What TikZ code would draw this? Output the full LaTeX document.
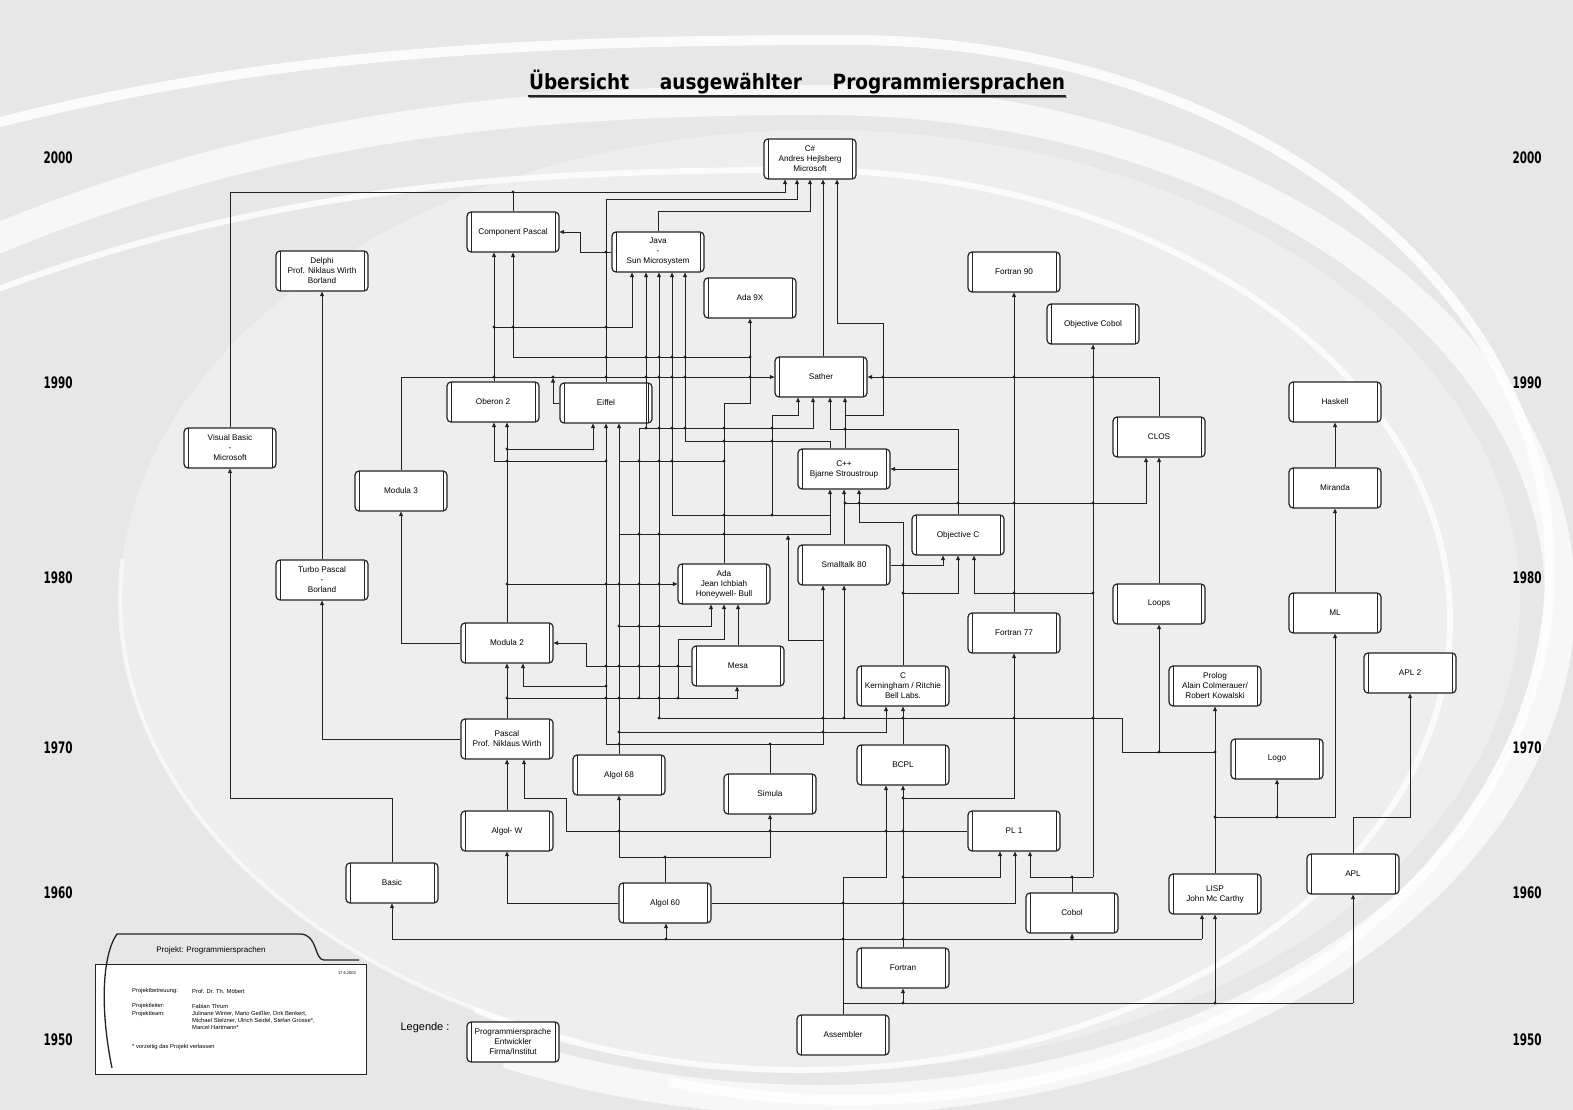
\documentclass[tikz,border=0pt]{standalone}
\usepackage{fontspec}
\setmainfont{Liberation Sans}
\newfontfamily\titlefont{DejaVu Sans}[FakeStretch=0.6]
\usepackage{graphicx}
\usetikzlibrary{arrows.meta}
\definecolor{bggray}{RGB}{231,231,231}
\definecolor{wirecol}{RGB}{35,35,35}
\tikzset{
  lang/.style={draw=wirecol, line width=1.2pt, fill=white, rounded corners=4pt,
    minimum width=92pt, minimum height=40pt, inner sep=1pt, align=center,
    font=\fontsize{8.2}{10}\selectfont,
    path picture={\draw[line width=0.9pt,wirecol]
      ([xshift=4pt]path picture bounding box.north west) -- ([xshift=4pt]path picture bounding box.south west)
      ([xshift=-4pt]path picture bounding box.north east) -- ([xshift=-4pt]path picture bounding box.south east);}},
  wire/.style={draw=wirecol, line width=0.9pt},
  link/.style={wire, -{Triangle[length=4.5pt,width=4pt]}},
  jahr/.style={font=\titlefont\bfseries, inner sep=0pt},
  info/.style={font=\fontsize{5.8}{7}\selectfont, anchor=west, inner sep=0pt},
  swoosh/.style={white}
}
\begin{document}
\begin{tikzpicture}[x=1pt,y=-1pt]
\useasboundingbox (0,0) rectangle (1573,1110);
% Hintergrund
\fill[bggray] (0,0) rectangle (1573,1110);
\begin{scope}
  \clip (0,0) rectangle (1573,1110);
  \fill[white, opacity=0.3] (820,600) ellipse [x radius=700pt, y radius=470pt];
  \draw[swoosh, line width=30pt, opacity=0.7] (-30,250) .. controls (250,130) and (500,100) .. (820,100)
    arc[start angle=90, end angle=-115, x radius=740pt, y radius=500pt];
  \draw[swoosh, line width=10pt, opacity=0.85] (-30,130) .. controls (250,55) and (500,40) .. (850,40)
    arc[start angle=90, end angle=-105, x radius=700pt, y radius=530pt];
  \draw[swoosh, line width=6pt, opacity=0.8] (-30,300) .. controls (250,190) and (500,170) .. (800,170)
    arc[start angle=90, end angle=-120, x radius=650pt, y radius=450pt];
  \draw[swoosh, line width=4pt, opacity=0.6] ([shift={(175:700pt and 470pt)}]820,600) arc[start angle=175, end angle=250, x radius=700pt, y radius=470pt];
\end{scope}

% Titel
\node (titel) at (797,82) {\resizebox*{536pt}{24pt}{\titlefont\bfseries \"Ubersicht\quad ausgew\"ahlter\quad Programmiersprachen}};
\draw[gray, line width=1pt] (529,98) -- (1067,98);
\draw[wirecol, line width=1.2pt] (528,96) -- (1066,96);

% Jahreszahlen
\foreach \jahr/\ypos in {2000/158,1990/383,1980/578,1970/748,1960/893,1950/1040}{
  \node[jahr] (links\jahr) at (58,\ypos) {\resizebox*{29pt}{12pt}{\jahr}};
  \node[jahr] (rechts\jahr) at (1527,\ypos) {\resizebox*{29pt}{12pt}{\jahr}};
}

% Sprachen
\node[lang] (cs) at (810,159) {C\#\\Andres Hejlsberg\\Microsoft};
\node[lang] (cp) at (513,232) {Component Pascal};
\node[lang] (java) at (658,252) {Java\\-\\Sun Microsystem};
\node[lang] (ada9x) at (750,298) {Ada 9X};
\node[lang] (delphi) at (322,271) {Delphi\\Prof. Niklaus Wirth\\Borland};
\node[lang] (fortran90) at (1014,272) {Fortran 90};
\node[lang] (objcobol) at (1093,324) {Objective Cobol};
\node[lang] (sather) at (821,377) {Sather};
\node[lang] (oberon) at (493,402) {Oberon 2};
\node[lang] (eiffel) at (606,403) {Eiffel};
\node[lang] (haskell) at (1335,402) {Haskell};
\node[lang] (vb) at (230,448) {Visual Basic\\-\\Microsoft};
\node[lang] (clos) at (1159,437) {CLOS};
\node[lang] (cpp) at (844,469) {C++\\Bjarne Stroustroup};
\node[lang] (modula3) at (401,491) {Modula 3};
\node[lang] (miranda) at (1335,488) {Miranda};
\node[lang] (objc) at (958,535) {Objective C};
\node[lang] (smalltalk) at (844,565) {Smalltalk 80};
\node[lang] (turbo) at (322,580) {Turbo Pascal\\-\\Borland};
\node[lang] (ada) at (724,584) {Ada\\Jean Ichbiah\\Honeywell- Bull};
\node[lang] (loops) at (1159,604) {Loops};
\node[lang] (ml) at (1335,613) {ML};
\node[lang] (fortran77) at (1014,633) {Fortran 77};
\node[lang] (modula2) at (507,643) {Modula 2};
\node[lang] (mesa) at (738,666) {Mesa};
\node[lang] (apltwo) at (1410,673) {APL 2};
\node[lang] (c) at (903,686) {C\\Kerningham / Ritchie\\Bell Labs.};
\node[lang] (prolog) at (1215,686) {Prolog\\Alain Colmerauer/\\Robert Kowalski};
\node[lang] (pascal) at (507,739) {Pascal\\Prof. Niklaus Wirth};
\node[lang] (logo) at (1277,759) {Logo};
\node[lang] (bcpl) at (903,765) {BCPL};
\node[lang] (algol68) at (619,775) {Algol 68};
\node[lang] (simula) at (770,794) {Simula};
\node[lang] (algolw) at (507,831) {Algol- W};
\node[lang] (pl1) at (1014,831) {PL 1};
\node[lang] (apl) at (1353,874) {APL};
\node[lang] (basic) at (392,883) {Basic};
\node[lang] (lisp) at (1215,894) {LISP\\John Mc Carthy};
\node[lang] (algol60) at (665,903) {Algol 60};
\node[lang] (cobol) at (1072,913) {Cobol};
\node[lang] (fortran) at (903,968) {Fortran};
\node[lang] (assembler) at (843,1035) {Assembler};

% Verbindungen nach C#
\draw[link] (vb.north) -- (230,192) -- (785,192) -- ([xshift=-25pt]cs.south);
\draw[wire] (cp.north) -- (513,192);
\draw[link] (eiffel.north) -- (606,199) -- (797,199) -- ([xshift=-13pt]cs.south);
\draw[link] (java.north) -- (658,211) -- (810,211) -- (cs.south);
\draw[link] ([xshift=2pt]sather.north) -- ([xshift=13pt]cs.south);
\draw[link] ([xshift=1pt]cpp.north) -- (845,415) -- (883,415) -- (883,323) -- (837,323) -- ([xshift=27pt]cs.south);
\draw[link] ([xshift=1pt]cpp.north) -- ([xshift=24pt]sather.south);

% Component Pascal, Java, Ada 9X
\draw[link] (java.west) -- (580,252) -- (580,232) -- (cp.east);
\draw[link] ([xshift=1pt]oberon.north) -- ([xshift=-19pt]cp.south);
\draw[link] (494,327) -- (632,327) -- ([xshift=-26pt]java.south);
\draw[link] (ada.north) -- (724,403) -- (750,403) -- (ada9x.south);
\draw[link] (750,357) -- (513,357) -- (cp.south);
\draw[link] (646,428) -- ([xshift=-12pt]java.south);
\draw[link] (659,718) -- ([xshift=1pt]java.south);
\draw[link] (672,515) -- ([xshift=14pt]java.south);
\draw[link] (685,441) -- ([xshift=27pt]java.south);

% Sather
\draw[link] (modula3.north) -- (401,377) -- (sather.west);
\draw[link] (eiffel.west) -- (553,403) -- (553,378);
\draw[link] (clos.north) -- (1159,377) -- (sather.east);
\draw[link] (639,698) -- (639,428) -- (813,428) -- ([xshift=-8pt]sather.south);
\draw[link] (772,515) -- (772,415) -- (798,415) -- ([xshift=-23pt]sather.south);
\draw[link] (objc.north) -- (958,429) -- (830,429) -- ([xshift=9pt]sather.south);

% C++, Objective C, CLOS
\draw[link] (958,469) -- (cpp.east);
\draw[wire] (685,441) -- (830,441) -- ([xshift=-14pt]cpp.north);
\draw[link] (672,515) -- (830,515) -- ([xshift=-14pt]cpp.south);
\draw[wire] (619,534) -- (830,534) -- (830,515);
\draw[link] (smalltalk.north) -- (cpp.south);
\draw[link] (c.north) -- (903,522) -- (859,522) -- ([xshift=15pt]cpp.south);
\draw[link] (845,503) -- (1146,503) -- ([xshift=-13pt]clos.south);
\draw[link] (smalltalk.east) -- (943,565) -- ([xshift=-15pt]objc.south);
\draw[link] (903,593) -- (958,593) -- (objc.south);
\draw[link] (1093,593) -- (974,593) -- ([xshift=16pt]objc.south);

% Smalltalk, C, BCPL
\draw[link] (606,744) -- (823,744) -- ([xshift=-21pt]smalltalk.south);
\draw[wire] (simula.north) -- (770,744);
\draw[link] (823,640) -- (788,640) -- (788,535);
\draw[link] (844,718) -- (smalltalk.south);
\draw[link] (619,732) -- (886,732) -- ([xshift=-17pt]c.south);
\draw[link] (bcpl.north) -- (c.south);

% Fortran-Linie
\draw[link] (fortran77.north) -- (fortran90.south);
\draw[link] (903,798) -- (1014,798) -- (fortran77.south);
\draw[link] (fortran.north) -- (bcpl.south);
\draw[link] (903,877) -- (1000,877) -- ([xshift=-14pt]pl1.south);

% Cobol
\draw[link] (1093,877) -- (objcobol.south);
\draw[link] (cobol.north) -- (1072,877) -- (1030,877) -- ([xshift=16pt]pl1.south);
\draw[wire] (1072,877) -- (1093,877);

% LISP-Familie
\draw[wire] (659,718) -- (1122,718) -- (1122,752) -- (1215,752);
\draw[link] (1159,752) -- (loops.south);
\draw[link] (loops.north) -- (clos.south);
\draw[link] (lisp.north) -- (prolog.south);
\draw[link] (1215,817) -- (1335,817) -- (ml.south);
\draw[link] (1277,817) -- (logo.south);
\draw[link] (ml.north) -- (miranda.south);
\draw[link] (miranda.north) -- (haskell.south);
\draw[link] (apl.north) -- (1353,817) -- (1410,817) -- (apltwo.south);

% Assembler
\draw[link] (assembler.north) -- (843,877) -- (886,877) -- ([xshift=-17pt]bcpl.south);
\draw[wire] (843,1003) -- (1353,1003);
\draw[link] (903,1003) -- (fortran.south);
\draw[link] (1215,1003) -- (lisp.south);
\draw[link] (1353,1003) -- (apl.south);
\draw[wire] (392,939) -- (1202,939);
\draw[link] (392,939) -- (basic.south);
\draw[link] (666,939) -- ([xshift=1pt]algol60.south);
\draw[link] (1072,939) -- (cobol.south);
\draw[link] (1202,939) -- ([xshift=-13pt]lisp.south);

% Algol-Familie
\draw[link] (algol60.east) -- (1015,903) -- ([xshift=1pt]pl1.south);
\draw[link] (algol60.north) -- (665,857) -- (619,857) -- (algol68.south);
\draw[link] (665,857) -- (770,857) -- (simula.south);
\draw[link] (pl1.west) -- (566,831) -- (566,798) -- (524,798) -- ([xshift=17pt]pascal.south);
\draw[link] (algolw.north) -- (pascal.south);
\draw[link] (algol60.west) -- (507,903) -- (algolw.south);
\draw[link] (pascal.north) -- (modula2.south);
\draw[link] (507,698) -- (737,698) -- ([xshift=-1pt]mesa.south);
\draw[link] (modula2.north) -- ([xshift=14pt]oberon.south);
\draw[link] (507,584) -- (ada.west);
\draw[link] (507,449) -- (593,449) -- ([xshift=-13pt]eiffel.south);
\draw[link] (606,461) -- (494,461) -- ([xshift=1pt]oberon.south);
\draw[wire] (619,461) -- (724,461);
\draw[link] (mesa.west) -- (586,666) -- (586,643) -- (modula2.east);
\draw[link] (606,686) -- (523,686) -- ([xshift=16pt]modula2.south);
\draw[link] (modula2.west) -- (401,643) -- (modula3.south);
\draw[link] (pascal.west) -- (322,739) -- (turbo.south);
\draw[link] (turbo.north) -- (delphi.south);
\draw[link] (basic.north) -- (392,798) -- (230,798) -- (vb.south);

% Ada, Mesa, Eiffel
\draw[link] (mesa.north) -- ([xshift=14pt]ada.south);
\draw[link] (678,698) -- (678,639) -- (724,639) -- (ada.south);
\draw[link] (619,626) -- (711,626) -- ([xshift=-13pt]ada.south);
\draw[link] (606,744) -- (eiffel.south);
\draw[link] (algol68.north) -- ([xshift=13pt]eiffel.south);

% Knotenpunkte
\foreach \p in {(513,192),(494,327),(513,327),(606,327),(606,252),
  (606,357),(646,357),(659,357),(672,357),(685,357),(750,357),
  (494,377),(553,377),(606,377),(646,377),(659,377),(672,377),(685,377),(750,377),
  (883,377),(1014,377),(1093,377),
  (646,428),(659,428),(672,428),(685,428),(724,428),(772,428),(845,429),
  (724,441),(772,441),(507,449),
  (507,461),(606,461),(639,461),(659,461),(672,461),(724,461),
  (845,503),(859,503),(958,503),(1014,503),(1093,503),
  (724,515),(772,515),(639,534),(659,534),(724,534),
  (903,565),(507,584),(606,584),(619,584),(639,584),(659,584),
  (903,593),(1014,593),(1093,593),(619,626),(639,626),(659,626),
  (606,666),(619,666),(639,666),(659,666),(678,666),(606,686),
  (507,698),(606,698),(619,698),(639,698),(659,698),(678,698),
  (659,718),(823,718),(844,718),(903,718),(1014,718),(1093,718),
  (619,732),(823,732),(619,744),(770,744),
  (1159,752),(1215,752),(1215,817),(1277,817),(903,798),
  (619,831),(770,831),(886,831),(903,831),(665,857),
  (903,877),(1072,877),(843,903),(903,903),
  (666,939),(843,939),(903,939),(1072,939),(903,1003),(1215,1003)}
  \fill[wirecol] \p circle (1.7pt);

% Projektbox
\node[draw=wirecol, line width=1pt, fill=white, minimum width=271pt, minimum height=110pt, inner sep=0pt] (projekt) at (230.5,1019) {};
\draw[wirecol, line width=1.3pt] (112,1068) .. controls (100,1010) and (102,955) .. (117,934) -- (300,934) .. controls (318,934) and (314,960) .. (324,960) -- (359,960);
\node[font=\fontsize{8}{9}\selectfont] (projtitel) at (211,950) {Projekt: Programmiersprachen};
\node[font=\fontsize{4}{5}\selectfont, anchor=east, inner sep=0pt] (datum) at (356,973) {17.6.2003};
\node[info] (betreuung) at (132,991) {Projektbetreuung:};
\node[info] (betreuer) at (192,991) {Prof. Dr. Th. M\"obert};
\node[info] (leiter) at (132,1006) {Projektleiter:};
\node[info] (leitername) at (192,1006) {Fabian Thrum};
\node[info] (team) at (132,1014) {Projektteam:};
\node[info, align=left, anchor=north west] (teamnamen) at (192,1011) {Julinane Winter, Mario Gei\ss ler, Dirk Benkert,\\Michael Stelzner, Ulrich Seidel, Stefan Grosse*,\\Marcel Hartmann*};
\node[info] (hinweis) at (132,1047) {* vorzeitig das Projekt verlassen};

% Legende
\node[font=\fontsize{11}{12}\selectfont] (legende) at (425,1028) {Legende :};
\node[lang] (legbox) at (513,1042) {Programmiersprache\\Entwickler\\Firma/Institut};
\end{tikzpicture}
\end{document}
